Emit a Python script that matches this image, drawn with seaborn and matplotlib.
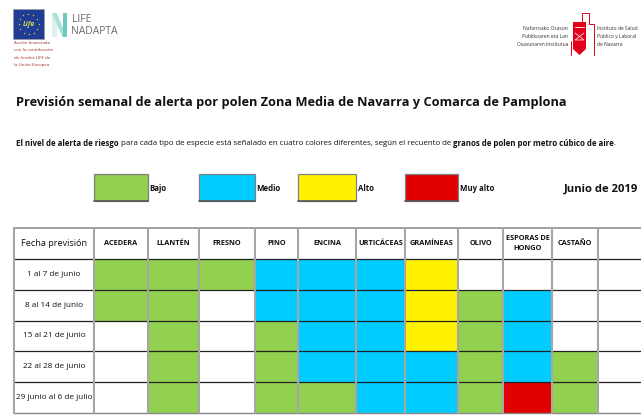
"""
Weekly pollen alert forecast, Zona Media de Navarra - June 2019
"""
import numpy as np
import seaborn as sns
import matplotlib
matplotlib.use("Agg")
from matplotlib import pyplot as plt
from matplotlib.colors import ListedColormap
from matplotlib.patches import Rectangle, Polygon

# --- data -------------------------------------------------------------
weeks = ["1 al 7 de junio", "8 al 14 de junio", "15 al 21 de junio",
         "22 al 28 de junio", "29 junio al 6 de julio"]
species = ["ACEDERA", "LLANTÉN", "FRESNO", "PINO", "ENCINA", "URTICÁCEAS",
           "GRAMÍNEAS", "OLIVO", "ESPORAS DE\nHONGO", "CASTAÑO", ""]

# alert level per week: 0 = sin color, 1 bajo, 2 medio, 3 alto, 4 muy alto
acedera = [1, 1, 0, 0, 0]
llanten = [1, 1, 1, 1, 1]
fresno = [1, 0, 0, 0, 0]
pino = [2, 2, 1, 1, 1]
encina = [2, 2, 2, 2, 1]
urticaceas = [2, 2, 2, 2, 2]
gramineas = [3, 3, 3, 2, 2]
olivo = [0, 1, 1, 1, 1]
esporas = [0, 2, 2, 2, 4]
castano = [0, 0, 0, 1, 1]
vacio = [0, 0, 0, 0, 0]

level_names = ["Bajo", "Medio", "Alto", "Muy alto"]
level_colors = ["#92D050", "#00CCFF", "#FFF200", "#E00000"]

table = np.array([acedera, llanten, fresno, pino, encina, urticaceas,
                  gramineas, olivo, esporas, castano, vacio]).T

# --- layout (pixels) ---------------------------------------------------
W, H = 641, 419
col_widths = [80, 54, 51, 56, 43, 58, 49, 53, 45, 49, 46, 43]
tab_left, tab_top, tab_bottom = 14, 228, 413

sns.set_style("white")
plt.rcParams["font.family"] = ["Open Sans", "DejaVu Sans"]

fig = plt.figure(figsize=(W / 100, H / 100), dpi=100)
bg = fig.add_axes([0, 0, 1, 1])
bg.set_xlim(0, W)
bg.set_ylim(H, 0)
bg.axis("off")
renderer = fig.canvas.get_renderer()


def text_width(s, size, weight="normal"):
    t = bg.text(0, 0, s, fontsize=size, fontweight=weight)
    w = t.get_window_extent(renderer).width
    t.remove()
    return w


# --- logos ---------------------------------------------------------------
bg.add_patch(Rectangle((13, 9), 31, 30, fc="#1F3D97", ec="#9a9a9a", lw=0.5))
ang = np.linspace(0, 2 * np.pi, 13)[:-1]
bg.scatter(28.5 + 10 * np.cos(ang), 24 + 10 * np.sin(ang), marker="*",
           s=2.5, color="#FFE100", lw=0)
bg.text(28.5, 24.5, "Life", fontsize=5, style="italic", color="#C9D64B",
        ha="center", va="center", fontweight="bold")
for i, line in enumerate(["Acción financiada", "con la contribución",
                          "de fondos LIFE de", "la Unión Europea"]):
    bg.text(14, 43 + 7.3 * i, line, fontsize=3.2, color="#A52A2A",
            va="center", ha="left")

bg.add_patch(Polygon([(52, 13), (56.5, 13), (56.5, 37), (52, 37)],
                     fc="#DDF2F0", lw=0))
bg.add_patch(Polygon([(52, 13), (56.5, 13), (67, 37), (62.5, 37)],
                     fc="#A9E0DA", lw=0))
bg.add_patch(Polygon([(62.5, 13), (67, 13), (67, 37), (62.5, 37)],
                     fc="#6ECAC2", lw=0))
bg.text(72, 19, "LIFE", fontsize=7.5, color="#6b6b6b", va="center")
bg.text(71.5, 31.5, "NADAPTA", fontsize=7.5, color="#6b6b6b", va="center")

red = "#E2001A"
for i, line in enumerate(["Nafarroako Osasun", "Publikoaren eta Lan",
                          "Osasunaren Institutua"]):
    bg.text(568, 29 + 7.5 * i, line, fontsize=3.6, color="#333333",
            ha="right", va="center")
for i, line in enumerate(["Instituto de Salud", "Público y Laboral",
                          "de Navarra"]):
    bg.text(597, 29 + 7.5 * i, line, fontsize=3.6, color="#333333",
            ha="left", va="center")
bg.add_patch(Polygon([(573, 22), (586, 22), (586, 49), (579.5, 55),
                      (573, 49)], fc=red, lw=0))
bg.plot([575, 584], [27, 27], color="white", lw=0.6)
bg.plot([575, 584, 575, 584], [33, 40, 40, 33], color="white", lw=0.5)
bg.plot([582, 582, 589, 589, 594, 594], [21, 13, 13, 24, 24, 55],
        color=red, lw=0.7)
bg.plot([571, 571], [41, 55], color=red, lw=0.7)

# --- title and intro text --------------------------------------------------
title = ("Previsión semanal de alerta por polen Zona Media de Navarra "
         "y Comarca de Pamplona")
size = 10 * 552 / text_width(title, 10, "bold")
bg.text(16, 102, title, fontsize=size, fontweight="bold", color="#111111",
        va="center", ha="left")

parts = [("El nivel de alerta de riesgo", "bold"),
         (" para cada tipo de especie está señalado en cuatro colores "
          "diferentes, según el recuento de", "normal"),
         (" granos de polen por metro cúbico de aire", "bold"),
         (".", "normal")]
total = sum(text_width(s, 10, w) for s, w in parts)
size = 10 * 608 / total
x = 16
for s, w in parts:
    t = bg.text(x, 143, s, fontsize=size, fontweight=w, color="#111111",
                va="center", ha="left")
    x += t.get_window_extent(renderer).width

# --- legend ---------------------------------------------------------------
edges = tab_left + np.concatenate([[0], np.cumsum(col_widths)])
for k, (name, color) in enumerate(zip(level_names, level_colors)):
    c = 1 + 2 * k
    x0, x1 = edges[c], edges[c + 1]
    bg.add_patch(Rectangle((x0, 174), x1 - x0, 27, fc=color, ec="#808080",
                           lw=0.9))
    bg.plot([x0, x1], [201, 201], color="#555555", lw=1.2)
    bg.text(x1 + 1.5, 188.5, name, fontsize=5.6, fontweight="bold",
            va="center", ha="left", color="#111111")

jsize = 10 * 74 / text_width("Junio de 2019", 10, "bold")
bg.text(638, 189, "Junio de 2019", fontsize=jsize, fontweight="bold",
        va="center", ha="right", color="#111111")

# --- table: one heatmap per column so widths can differ -------------------
cmap = ListedColormap(["white"] + level_colors)
heads = ["Fecha previsión"] + species
date_size = 10 * 76 / max(text_width(s, 10) for s in weeks)
head_size = 10 * 66 / text_width(heads[0], 10)
x = tab_left
for j, w in enumerate(col_widths):
    ax = fig.add_axes([x / W, (H - tab_bottom) / H, w / W,
                       (tab_bottom - tab_top) / H])
    if j == 0:
        sns.heatmap(np.zeros((len(weeks), 1)), ax=ax, cmap=cmap, vmin=-0.5,
                    vmax=4.5, cbar=False, xticklabels=False,
                    yticklabels=False,
                    annot=np.array(weeks).reshape(-1, 1), fmt="",
                    annot_kws={"fontsize": date_size, "color": "#111111"})
        ax.text(0.5, -0.5, heads[j], fontsize=head_size, ha="center",
                va="center", color="#111111")
    else:
        sns.heatmap(table[:, [j - 1]], ax=ax, cmap=cmap, vmin=-0.5,
                    vmax=4.5, cbar=False, xticklabels=False,
                    yticklabels=False)
        ax.text(0.5, -0.5, heads[j], fontsize=5.3, fontweight="bold",
                ha="center", va="center", color="#111111", linespacing=1.5)
    ax.set_ylim(len(weeks), -1)
    for yy in range(0, len(weeks)):
        ax.axhline(yy, color="#222222", lw=0.9, clip_on=False)
    ax.axhline(-1, color="#999999", lw=1.3, clip_on=False)
    ax.axhline(len(weeks), color="#888888", lw=1.0, clip_on=False)
    ax.axvline(0, color="#A6A6A6", lw=1.5, clip_on=False)
    x += w

fig.savefig("out.png", dpi=100)
